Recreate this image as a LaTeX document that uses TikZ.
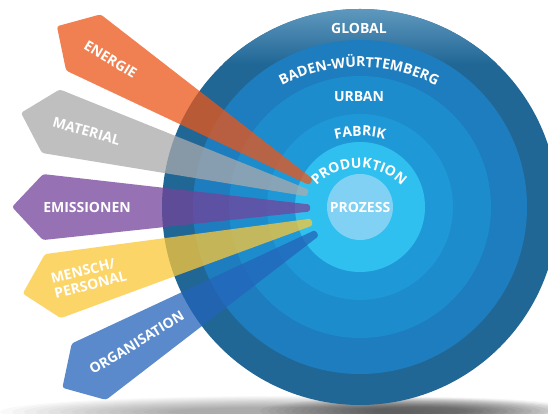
\documentclass[tikz,border=0pt]{standalone}
\usepackage{fontspec}
\setmainfont{Open Sans}
\usetikzlibrary{decorations.text}
\definecolor{ringGlobal}{RGB}{33,103,150}
\definecolor{ringGlobalTop}{RGB}{105,160,196}
\definecolor{ringBW}{RGB}{29,125,190}
\definecolor{ringUrban}{RGB}{28,140,205}
\definecolor{ringFabrik}{RGB}{31,152,215}
\definecolor{ringProd}{RGB}{47,192,239}
\definecolor{ringProzess}{RGB}{128,209,243}
\definecolor{bandEnergie}{RGB}{236,86,24}
\definecolor{bandMaterial}{RGB}{170,170,172}
\definecolor{bandEmission}{RGB}{115,67,155}
\definecolor{bandMensch}{RGB}{252,200,56}
\definecolor{bandOrga}{RGB}{36,100,186}
\newcommand{\lbl}{\bfseries\fontsize{14}{15}\selectfont}
% name, tip, angle, colour, text, distance of text from tip
\newcommand{\band}[6]{%
  \begin{scope}[shift={(#2)}, rotate=#3]
    \fill[#4, bandfill] (0,3.5) -- (267,33) -- (298,0) -- (267,-33) -- (0,-3.5) -- cycle;
    \node[bandlabel, rotate=#3-180] (#1) at (#6,0) {#5};
  \end{scope}}
\newcommand{\arclabel}[4]{% centre, start angle, end angle, radius
  (#1) ++(#2:#4) arc (#2:#3:#4)}

\begin{document}
\begin{tikzpicture}[x=1pt, y=1pt,
  bandfill/.style={opacity=.75, rounded corners=2.5pt},
  bandlabel/.style={text=white, font=\lbl, inner sep=0pt, align=left},
  ringlabel/.style={text=white, font=\lbl, anchor=base, inner sep=0pt}]
\useasboundingbox (0,0) rectangle (548,414);
\fill[white] (0,0) rectangle (548,414);
\clip (0,0) rectangle (548,414);
% shadow
\foreach \i in {0,...,14}
  \fill[black, opacity=.025] (290,2) ellipse ({290-12*\i} and {16-0.8*\i});
\foreach \i in {0,...,14}
  \fill[black, opacity=.035] (420,3) ellipse ({160-8*\i} and {14-0.7*\i});
% rings
\coordinate (c) at (360,207);
\fill[ringGlobal] (c) circle (198);
\begin{scope}
  \clip (c) circle (198);
  \shade[top color=ringGlobalTop, bottom color=ringGlobal] (150,350) rectangle (560,414);
\end{scope}
\fill[ringBW] (c) circle (167);
\fill[ringUrban] (c) circle (131);
\fill[ringFabrik] (c) circle (93);
\fill[ringProd] (c) circle (65);
\fill[ringProzess] (c) circle (33);
% bands
\band{energie}{311,232}{148.5}{bandEnergie}{ENERGIE}{235}
\band{material}{308,221}{164.4}{bandMaterial}{MATERIAL}{230}
\band{emission}{310,206}{179.8}{bandEmission}{EMISSIONEN}{223}
\band{mensch}{312,192}{193.9}{bandMensch}{MENSCH/\\PERSONAL}{230}
\band{orga}{317,181}{211.3}{bandOrga}{ORGANISATION}{211}
% ring labels
\node[ringlabel] (global) at (359,380) {GLOBAL};
\node[ringlabel] (urban) at (359,312) {URBAN};
\node[ringlabel] (prozess) at (360,201) {PROZESS};
\path[decorate, decoration={text along path, text align=center, text color=white,
  text={|\lbl|BADEN-W{Ü}RTTEMBERG}}] \arclabel{359,180}{140}{40}{167};
\path[decorate, decoration={text along path, text align=center, text color=white,
  text={|\lbl|FABRIK}}] \arclabel{360,178}{120}{60}{100};
\path[decorate, decoration={text along path, text align=center, text color=white,
  text={|\lbl|PRODUKTION}}] \arclabel{359,186}{165}{15}{60};
\end{tikzpicture}
\end{document}
